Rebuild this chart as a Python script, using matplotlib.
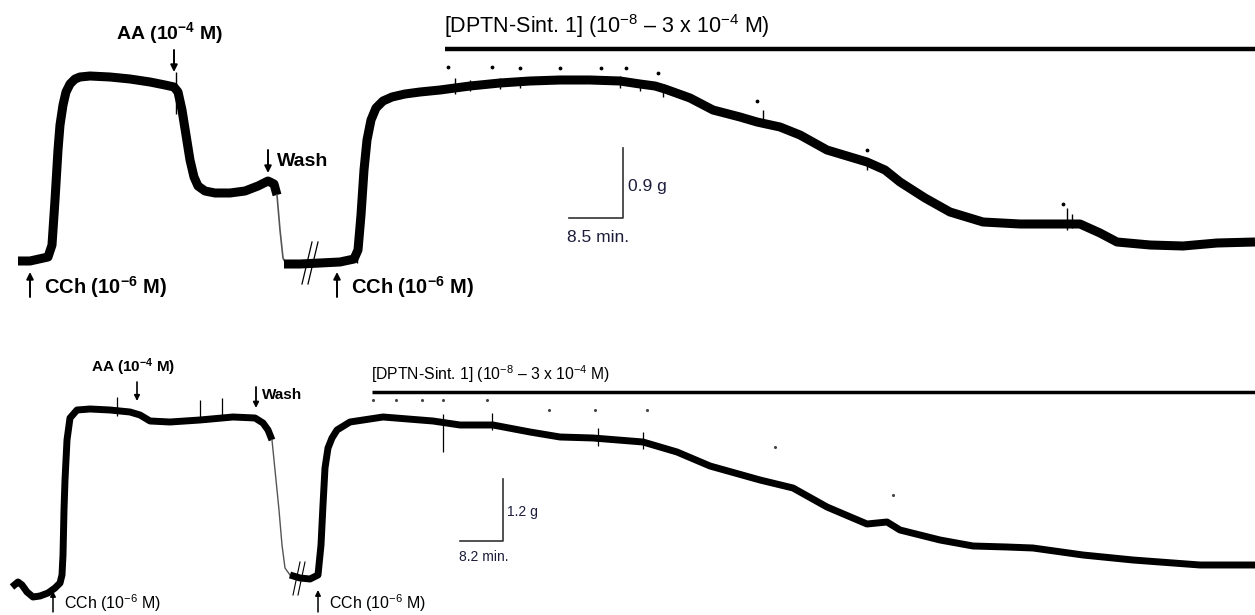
import matplotlib
matplotlib.use("Agg")
import matplotlib.pyplot as plt

plt.rcParams['mathtext.fontset'] = 'custom'
plt.rcParams['mathtext.default'] = 'regular'
FONT = ['Liberation Sans Narrow', 'Liberation Sans', 'DejaVu Sans']

# ---- upper recording (time in px-minutes, tension in px)
top_t = [18, 30, 48, 52, 55, 58, 60, 63, 66, 70, 75, 80, 90, 110, 130, 150, 165, 174,
         178, 182, 186, 190, 194, 198, 205, 215, 230, 245, 258, 268, 274, 277]
top_f = [261, 261, 257, 245, 200, 150, 125, 105, 92, 84, 79, 77, 76, 77, 79, 82, 85, 87,
         92, 110, 135, 160, 177, 186, 191, 193, 193, 191, 186, 181, 184, 195]
wash_t = [277, 280, 283, 286]
wash_f = [195, 230, 258, 264]
top2_t = [284, 300, 320, 340, 354, 358, 361, 364, 367, 371, 376, 383, 392, 405, 420, 440,
          470, 500, 530, 560, 590, 620, 640, 655, 665, 690, 713, 740, 757, 780, 800, 827,
          867, 885, 900, 925, 950, 983, 1020, 1067, 1080, 1100, 1117, 1150, 1183, 1217, 1255]
top2_f = [264, 264, 263, 262, 259, 250, 215, 170, 140, 120, 108, 101, 97, 94, 92, 90,
          86, 83, 81, 80, 80, 81, 84, 86, 89, 98, 110, 117, 122, 127, 135, 150,
          162, 170, 182, 198, 212, 222, 224, 224, 224, 233, 242, 245, 246, 243, 242]
top_spk_t = [176, 357, 455, 470, 500, 520, 620, 640, 663, 763, 867, 1067, 1072]
top_spk_lo = [72, 244, 78, 80, 78, 77, 76, 80, 84, 110, 158, 208, 214]
top_spk_hi = [114, 263, 94, 91, 89, 88, 88, 91, 97, 127, 170, 230, 228]
top_dot_t = [448, 492, 520, 560, 601, 626, 658, 757, 867, 1063]
top_dot_f = [67, 67, 68, 68, 68, 68, 73, 101, 150, 204]

# ---- lower recording
bot_t = [12, 18, 22, 27, 33, 40, 48, 55, 60, 62, 63, 64, 65, 67, 70, 77, 90, 110, 130,
         140, 150, 170, 200, 233, 255, 263, 268, 272]
bot_f = [587, 582, 585, 592, 597, 596, 593, 588, 583, 575, 555, 510, 480, 440, 418, 410,
         409, 410, 412, 415, 421, 422, 420, 417, 418, 423, 430, 440]
bot2_t = [272, 276, 279, 282, 285, 290, 300, 310, 318, 321, 323, 325, 328, 332, 337, 350,
          383, 433, 460, 493, 530, 560, 593, 643, 677, 710, 760, 793, 827, 867, 887, 900,
          940, 973, 1007, 1033, 1083, 1133, 1200, 1255]
bot2_f = [440, 480, 510, 545, 568, 575, 578, 579, 575, 545, 505, 468, 448, 438, 430, 422,
          417, 421, 425, 425, 432, 437, 438, 442, 452, 466, 480, 488, 507, 524, 522, 530,
          540, 546, 547, 548, 555, 560, 565, 565]
bot_spk_t = [117, 200, 222, 443, 492, 598, 643]
bot_spk_lo = [397, 400, 398, 414, 413, 428, 432]
bot_spk_hi = [416, 422, 418, 452, 430, 446, 449]
bot_dot_t = [373, 396, 422, 443, 487, 549, 595, 647, 775, 893]
bot_dot_f = [400, 400, 400, 400, 400, 410, 410, 410, 447, 495]

fig = plt.figure(figsize=(12.55, 6.15), dpi=100)
ax = fig.add_axes([0, 0, 1, 1])
ax.set_xlim(0, 1255)
ax.set_ylim(615, 0)
ax.axis('off')

# traces
ax.plot(top_t, top_f, color='k', lw=6.5, solid_joinstyle='round', solid_capstyle='butt')
ax.plot(wash_t, wash_f, color='#555555', lw=1.2)
ax.plot(top2_t, top2_f, color='k', lw=6.5, solid_joinstyle='round', solid_capstyle='butt')
ax.vlines(top_spk_t, top_spk_lo, top_spk_hi, color='k', lw=1.0)
ax.scatter(top_dot_t, top_dot_f, s=3, color='k')
ax.plot(bot_t, bot_f, color='k', lw=5, solid_joinstyle='round', solid_capstyle='butt')
ax.plot(bot2_t[:6], bot2_f[:6], color='#555555', lw=1.0)
ax.plot(bot2_t[5:], bot2_f[5:], color='k', lw=5, solid_joinstyle='round', solid_capstyle='butt')
ax.vlines(bot_spk_t, bot_spk_lo, bot_spk_hi, color='k', lw=0.9)
ax.scatter(bot_dot_t, bot_dot_f, s=1.5, color='#444444')

# break marks
ax.plot([302, 312], [284, 242], color='k', lw=0.9)
ax.plot([308, 318], [284, 242], color='k', lw=0.9)
ax.plot([293, 300], [595, 562], color='k', lw=0.8)
ax.plot([298, 305], [595, 562], color='k', lw=0.8)

# drug application bars
ax.plot([445, 1255], [49, 49], color='k', lw=3.2, solid_capstyle='butt')
ax.plot([372, 1255], [392, 392], color='k', lw=2.5, solid_capstyle='butt')

# scale bars
ax.plot([569, 623, 623], [218, 218, 148], color='#333333', lw=1.2)
ax.plot([460, 503, 503], [541, 541, 479], color='#333333', lw=1.2)

lab = '#1c1c3a'
ax.text(628, 187, '0.9 g', fontsize=12.5, color=lab, va='center', family=FONT)
ax.text(567, 237, '8.5 min.', fontsize=12.5, color=lab, va='center', family=FONT)
ax.text(507, 512, '1.2 g', fontsize=10, color=lab, va='center', family=FONT)
ax.text(459, 557, '8.2 min.', fontsize=10, color=lab, va='center', family=FONT)


def arrow(x, y_from, y_to, lw=1.4, ms=10):
    ax.annotate('', xy=(x, y_to), xytext=(x, y_from),
                arrowprops=dict(arrowstyle='-|>', color='k', lw=lw, mutation_scale=ms,
                                shrinkA=0, shrinkB=0))


# annotations, upper
ax.text(116, 33, 'AA (10$^{-4}$ M)', fontsize=14, fontweight='bold', va='center', family=FONT)
arrow(174, 50, 72)
arrow(268, 150, 173)
ax.text(277, 161, 'Wash', fontsize=14, fontweight='bold', va='center', family=FONT)
arrow(30, 297, 272)
ax.text(44, 287, 'CCh (10$^{-6}$ M)', fontsize=14.5, fontweight='bold', va='center', family=FONT)
arrow(337, 297, 272)
ax.text(351, 287, 'CCh (10$^{-6}$ M)', fontsize=14.5, fontweight='bold', va='center', family=FONT)
ax.text(444, 26, '[DPTN-Sint. 1] (10$^{-8}$ \u2013 3 x 10$^{-4}$ M)', fontsize=15.5,
        va='center', family=FONT)

# annotations, lower
ax.text(91, 367, 'AA (10$^{-4}$ M)', fontsize=11, fontweight='bold', va='center', family=FONT)
arrow(137, 382, 401, lw=1.2, ms=8)
arrow(256, 387, 408, lw=1.3, ms=8)
ax.text(262, 395, 'Wash', fontsize=11, fontweight='bold', va='center', family=FONT)
arrow(53, 612, 591, lw=1.1, ms=8)
ax.text(64, 603, 'CCh (10$^{-6}$ M)', fontsize=11.5, va='center', family=FONT)
arrow(318, 612, 590, lw=1.1, ms=8)
ax.text(329, 603, 'CCh (10$^{-6}$ M)', fontsize=11.5, va='center', family=FONT)
ax.text(371, 374, '[DPTN-Sint. 1] (10$^{-8}$ \u2013 3 x 10$^{-4}$ M)', fontsize=11.3,
        va='center', family=FONT)

fig.savefig('out.png', dpi=100)
